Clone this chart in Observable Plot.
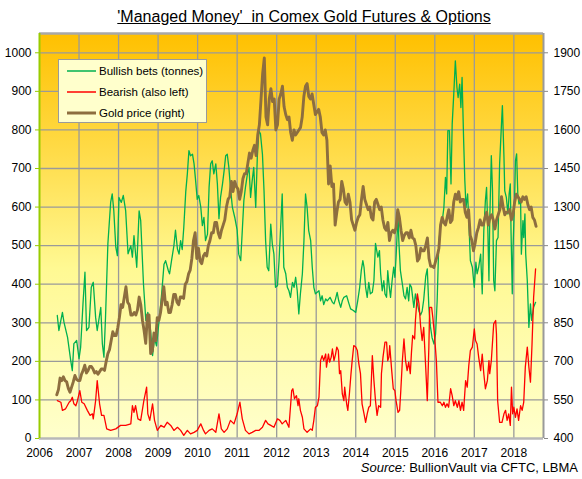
<!DOCTYPE html>
<html>
<head>
<meta charset="utf-8">
<script src="https://cdn.jsdelivr.net/npm/d3@7"></script>
<script src="https://cdn.jsdelivr.net/npm/@observablehq/plot@0.6"></script>
<style>
  body { margin: 0; background: #fff; font-family: Arial, "Liberation Sans", sans-serif; }
  #wrap { position: relative; width: 582px; height: 479px; overflow: hidden; }
  #title { height: 30px; width: 582px; padding-left: 26px; box-sizing: border-box; text-align: center; font-size: 16px; line-height: 34px; }
  #title span { text-decoration: underline; }
  #chart svg { display: block; }
  #legend { position: absolute; left: 58px; top: 59px; width: 149px; height: 64px; box-sizing: border-box; background: #FFFFCC; border: 1px solid #9a9a9a; font-size: 11.5px; }
  .row { position: absolute; left: 8px; height: 14px; display: flex; align-items: center; }
  .row svg { margin-right: 3px; }
  #source { position: absolute; right: 4px; top: 460px; font-size: 13px; }
</style>
</head>
<body>
<div id="wrap">
  <div id="title"><span>'Managed Money'&nbsp; in Comex Gold Futures &amp; Options</span></div>
  <div id="chart"></div>
  <div id="legend"></div>
  <div id="source"><i>Source:</i> BullionVault via CFTC, LBMA</div>
</div>
<script>
// ---- DATA ----
const yearTicks = [2006,2007,2008,2009,2010,2011,2012,2013,2014,2015,2016,2017,2018];
const leftTicks = [0,100,200,300,400,500,600,700,800,900,1000];
const rightTicks = [400,550,700,850,1000,1150,1300,1450,1600,1750,1900];

const seriesNames = ["Bullish bets (tonnes)", "Bearish (also left)", "Gold price (right)"];
const seriesColors = ["#00B050", "#FF0000", "#8D6E3F"];

// Gold price, US$/oz, two readings per month from June 2006 to July 2018
const goldStartYear = 2006, goldStartMonth = 6;
const goldPrice = [
  570,590, 635,625, 640,625, 620,595, 580,600, 620,645, 630,625,
  625,650, 665,685, 655,665, 680,680, 670,655, 660,650, 660,670, 670,665, 700,730, 745,780, 815,800, 800,830,
  870,920, 910,950, 990,930, 920,880, 880,890, 880,900, 950,920, 860,820, 770,880, 880,730, 740,810, 780,870,
  860,890, 940,990, 920,930, 890,890, 920,960, 960,930, 920,950, 950,945, 1000,1010, 1040,1055, 1100,1170, 1200,1100,
  1140,1090, 1080,1110, 1120,1110, 1150,1170, 1200,1200, 1240,1240, 1200,1180, 1210,1230, 1250,1300, 1330,1340, 1400,1360, 1400,1380,
  1370,1330, 1360,1410, 1430,1430, 1470,1510, 1490,1520, 1540,1500, 1580,1620, 1720,1820, 1880,1650, 1620,1720, 1760,1710, 1720,1600,
  1620,1720, 1740,1770, 1690,1660, 1640,1650, 1590,1560, 1600,1580, 1590,1600, 1610,1650, 1730,1770, 1780,1730, 1720,1740, 1700,1660,
  1670,1680, 1650,1590, 1580,1600, 1560,1390, 1460,1380, 1390,1230, 1280,1320, 1330,1400, 1370,1320, 1310,1350, 1320,1250, 1230,1210,
  1240,1260, 1270,1330, 1380,1330, 1310,1290, 1300,1260, 1250,1320, 1330,1310, 1290,1300, 1250,1220, 1210,1240, 1170,1200, 1210,1200,
  1220,1290, 1260,1210, 1170,1190, 1200,1200, 1180,1210, 1180,1175, 1150,1090, 1100,1140, 1130,1130, 1150,1180, 1100,1070, 1070,1065,
  1090,1110, 1140,1230, 1260,1240, 1230,1260, 1290,1240, 1250,1320, 1350,1330, 1360,1320, 1330,1330, 1280,1260, 1290,1190, 1170,1130,
  1160,1200, 1220,1250, 1230,1230, 1260,1280, 1230,1260, 1270,1250, 1215,1250, 1270,1290, 1340,1300, 1270,1280, 1280,1290, 1250,1270,
  1320,1350, 1340,1330, 1320,1340, 1330,1340, 1310,1290, 1300,1260, 1250,1225
];

// [years after 1 Jan 2006, tonnes]
const bullishBets = [
[0.45,319],[0.49,280],[0.58,327],[0.62,301],[0.71,262],[0.79,202],[0.83,176],[0.87,246],[0.94,254],[1.00,207],[1.04,236],[1.10,349],[1.15,431],[1.19,280],[1.25,288],[1.31,392],[1.36,405],[1.42,314],[1.46,280],[1.55,340],[1.59,246],[1.63,211],[1.67,314],[1.73,505],[1.80,612],[1.84,634],[1.88,590],[1.93,496],[1.97,474],[2.01,625],[2.07,612],[2.12,630],[2.18,590],[2.24,479],[2.31,500],[2.35,470],[2.39,526],[2.46,444],[2.52,590],[2.56,565],[2.63,401],[2.69,306],[2.74,327],[2.81,280],[2.86,215],[2.91,260],[2.96,240],
[3.04,320],[3.09,375],[3.15,452],[3.19,461],[3.26,435],[3.29,427],[3.34,461],[3.40,500],[3.44,540],[3.49,491],[3.53,478],[3.57,513],[3.61,490],[3.65,547],[3.70,640],[3.74,686],[3.78,746],[3.82,733],[3.87,737],[3.91,712],[3.95,668],[3.99,620],
[4.03,630],[4.08,600],[4.12,552],[4.16,573],[4.20,513],[4.25,530],[4.29,651],[4.33,712],[4.37,720],[4.41,686],[4.46,712],[4.50,660],[4.54,570],[4.58,625],[4.63,660],[4.67,694],[4.71,733],[4.75,737],[4.79,703],[4.83,651],[4.88,599],[4.94,573],
[5.00,540],[5.04,478],[5.09,461],[5.13,539],[5.17,617],[5.21,651],[5.26,686],[5.30,703],[5.34,625],[5.38,668],[5.42,703],[5.47,599],[5.51,729],[5.55,798],[5.59,790],[5.64,737],[5.68,642],[5.72,513],[5.76,444],[5.80,435],[5.85,556],[5.89,504],[5.93,478],[5.97,392],
[6.02,396],[6.06,461],[6.10,547],[6.14,634],[6.18,444],[6.23,427],[6.27,392],[6.31,383],[6.35,366],[6.40,405],[6.44,392],[6.48,418],[6.52,383],[6.56,323],[6.60,375],[6.65,427],[6.69,513],[6.73,634],[6.77,599],[6.81,539],[6.86,513],[6.90,444],[6.94,392],[6.98,375],
[7.07,383],[7.11,357],[7.15,370],[7.19,347],[7.24,362],[7.28,357],[7.35,366],[7.41,353],[7.45,349],[7.49,362],[7.53,379],[7.57,357],[7.62,340],[7.66,357],[7.70,366],[7.77,370],[7.83,349],[7.87,336],[7.94,332],
[8.00,327],[8.05,357],[8.10,392],[8.14,435],[8.18,461],[8.21,444],[8.25,392],[8.29,366],[8.33,405],[8.37,375],[8.42,379],[8.46,409],[8.50,506],[8.56,470],[8.60,487],[8.63,427],[8.67,383],[8.71,409],[8.74,375],[8.78,366],[8.81,435],[8.84,401],[8.88,366],[8.92,409],[8.96,444],[8.99,418],
[9.02,470],[9.07,580],[9.09,513],[9.13,435],[9.18,400],[9.22,370],[9.26,362],[9.30,392],[9.34,357],[9.37,400],[9.41,392],[9.47,340],[9.51,375],[9.56,349],[9.60,330],[9.64,320],[9.68,330],[9.72,360],[9.77,420],[9.81,440],[9.85,340],[9.89,290],[9.93,262],[9.98,245],
[10.02,271],[10.06,357],[10.10,504],[10.14,547],[10.19,565],[10.23,599],[10.27,677],[10.30,634],[10.33,798],[10.37,798],[10.41,660],[10.44,815],[10.48,893],[10.52,979],[10.56,910],[10.59,884],[10.63,919],[10.66,858],[10.69,936],[10.73,772],[10.76,668],[10.79,599],[10.83,634],[10.86,565],[10.90,461],[10.95,444],[10.99,401],
[11.00,392],[11.04,457],[11.07,427],[11.11,444],[11.16,478],[11.20,375],[11.24,539],[11.28,617],[11.31,651],[11.34,547],[11.37,409],[11.39,565],[11.43,733],[11.46,642],[11.49,409],[11.52,383],[11.56,513],[11.60,521],[11.64,712],[11.69,822],[11.71,863],[11.75,729],[11.77,642],[11.81,625],[11.85,582],[11.88,634],[11.91,660],[11.93,530],[11.96,375],[11.98,496],
[12.02,625],[12.04,720],[12.07,738],[12.10,634],[12.13,608],[12.17,617],[12.19,478],[12.23,565],[12.25,521],[12.28,582],[12.30,478],[12.34,409],[12.38,288],[12.42,349],[12.45,306],[12.50,340],[12.55,353]
];

const bearishBets = [
[0.45,98],[0.54,94],[0.58,73],[0.66,77],[0.75,94],[0.79,98],[0.83,107],[0.87,90],[0.92,85],[0.96,98],[1.02,124],[1.07,94],[1.13,90],[1.21,73],[1.28,60],[1.34,64],[1.36,51],[1.42,98],[1.46,150],[1.52,90],[1.57,60],[1.63,60],[1.70,25],[1.80,21],[1.93,25],
[2.05,34],[2.18,34],[2.31,38],[2.35,85],[2.39,68],[2.43,85],[2.49,51],[2.56,47],[2.64,98],[2.71,133],[2.74,64],[2.79,47],[2.86,90],[2.91,47],[2.98,21],
[3.07,34],[3.15,29],[3.23,42],[3.32,34],[3.40,21],[3.49,29],[3.57,21],[3.65,8],[3.74,21],[3.82,12],[3.91,16],[3.99,21],
[4.08,38],[4.15,21],[4.20,12],[4.29,21],[4.37,25],[4.46,16],[4.54,64],[4.60,25],[4.67,16],[4.75,25],[4.83,47],[4.92,38],
[5.00,64],[5.07,94],[5.13,51],[5.21,21],[5.30,12],[5.38,16],[5.47,21],[5.55,21],[5.64,29],[5.72,47],[5.78,38],[5.85,34],[5.93,29],
[6.02,51],[6.08,47],[6.14,38],[6.23,47],[6.31,29],[6.38,124],[6.41,129],[6.45,103],[6.50,111],[6.54,85],[6.56,103],[6.60,73],[6.65,55],[6.69,25],[6.77,16],[6.86,25],[6.90,21],[6.94,47],[6.98,81],
[7.03,85],[7.07,107],[7.11,202],[7.15,215],[7.19,202],[7.24,219],[7.26,185],[7.31,219],[7.34,198],[7.38,211],[7.41,232],[7.45,202],[7.49,219],[7.52,237],[7.56,228],[7.59,168],[7.62,176],[7.66,116],[7.70,98],[7.72,133],[7.77,90],[7.80,73],[7.84,116],[7.88,168],[7.91,202],[7.95,241],
[8.00,237],[8.04,228],[8.08,193],[8.12,168],[8.16,90],[8.21,64],[8.25,42],[8.29,64],[8.33,81],[8.37,85],[8.42,215],[8.46,150],[8.50,98],[8.54,60],[8.58,85],[8.63,81],[8.65,168],[8.69,211],[8.74,250],[8.78,250],[8.81,202],[8.84,211],[8.86,241],[8.91,176],[8.95,129],[8.99,124],
[9.02,98],[9.07,68],[9.11,73],[9.14,124],[9.18,202],[9.22,258],[9.26,202],[9.30,176],[9.34,198],[9.38,168],[9.41,224],[9.44,267],[9.49,258],[9.51,306],[9.56,375],[9.60,349],[9.64,293],[9.68,254],[9.72,288],[9.77,185],[9.81,98],[9.85,237],[9.87,340],[9.92,340],[9.95,314],[9.99,271],
[10.04,202],[10.08,94],[10.14,94],[10.19,85],[10.23,94],[10.27,81],[10.31,90],[10.35,81],[10.40,129],[10.44,111],[10.48,85],[10.52,98],[10.57,81],[10.61,98],[10.65,73],[10.69,94],[10.73,73],[10.78,150],[10.82,133],[10.86,189],[10.90,228],[10.95,237],
[11.00,284],[11.03,254],[11.07,245],[11.11,211],[11.16,176],[11.20,219],[11.24,168],[11.28,129],[11.33,150],[11.37,202],[11.39,168],[11.43,202],[11.49,297],[11.54,306],[11.56,271],[11.59,98],[11.64,42],[11.70,42],[11.75,64],[11.79,73],[11.83,47],[11.87,64],[11.91,34],[11.94,133],[11.97,64],
[12.00,81],[12.04,55],[12.08,77],[12.12,47],[12.17,85],[12.21,73],[12.25,94],[12.29,185],[12.34,237],[12.38,185],[12.42,146],[12.46,245],[12.50,366],[12.55,440]
];

// ---- SCALES (right axis mapped onto left axis) ----
const leftMax = 1050;
const rightMin = rightTicks[0], rightPerLeft = (rightTicks[rightTicks.length-1] - rightTicks[0]) / leftTicks[leftTicks.length-1];
const toLeft = g => (g - rightMin) / rightPerLeft;

const goldData = goldPrice.map((v, i) => ({
  t: goldStartYear + (goldStartMonth - 1 + 0.25 + 0.5 * i) / 12,
  v: toLeft(v)
}));
const bullData = bullishBets.map(([t, v]) => ({t: 2006 + t, v}));
const bearData = bearishBets.map(([t, v]) => ({t: 2006 + t, v}));

const xMax = 2018.75;

const chart = Plot.plot({
  width: 582,
  height: 432,
  marginLeft: 39,
  marginRight: 39,
  marginTop: 3,
  marginBottom: 24,
  style: {fontFamily: 'Arial, "Liberation Sans", sans-serif', fontSize: "12px", color: "#000", background: "transparent", overflow: "visible"},
  x: {type: "linear", domain: [2006, xMax]},
  y: {domain: [0, leftMax]},
  marks: [
    Plot.frame({fill: "url(#bgGrad)", stroke: "none"}),
    Plot.gridX(yearTicks.slice(1), {stroke: "#9a9a9a", strokeOpacity: 1, strokeWidth: 1.3}),
    Plot.gridY(leftTicks.slice(1), {stroke: "#9a9a9a", strokeOpacity: 1, strokeWidth: 1.3}),
    Plot.line(bullData, {x: "t", y: "v", stroke: seriesColors[0], strokeWidth: 1.3}),
    Plot.line(bearData, {x: "t", y: "v", stroke: seriesColors[1], strokeWidth: 1.3}),
    Plot.line(goldData, {x: "t", y: "v", stroke: seriesColors[2], strokeWidth: 2.9}),
    Plot.ruleY([leftMax], {stroke: "#a8a8a8", strokeWidth: 2.5}),
    Plot.ruleY([0], {stroke: "#b8b8b8", strokeWidth: 2.5}),
    Plot.ruleX([xMax], {stroke: "#9a9a9a", strokeWidth: 2}),
    Plot.ruleX([2006], {stroke: "#99CC00", strokeWidth: 2}),
    Plot.axisY(leftTicks, {anchor: "left", tickSize: 4, tickPadding: 4, stroke: "#99CC00", label: null, tickFormat: d => String(d)}),
    Plot.axisY(leftTicks, {anchor: "right", tickSize: 4, tickPadding: 6, stroke: "#888", label: null, tickFormat: (d, i) => String(rightTicks[i])}),
    Plot.axisX(yearTicks, {anchor: "bottom", tickSize: 0, tickPadding: 10, label: null, tickFormat: d => String(d)})
  ]
});

// background gradient of the plotting area
const defs = d3.select(chart).insert("defs", ":first-child");
const grad = defs.append("linearGradient").attr("id", "bgGrad").attr("x1", 0).attr("y1", 0).attr("x2", 0).attr("y2", 1);
[["0%", "#FFC000"], ["30%", "#FFDC4A"], ["58%", "#FFF993"], ["100%", "#FFFFCC"]].forEach(([o, c]) =>
  grad.append("stop").attr("offset", o).attr("stop-color", c));

document.getElementById("chart").appendChild(chart);

// legend
const legend = document.getElementById("legend");
const rowTops = [4, 25, 46];
const widths = [1.5, 1.5, 3];
seriesNames.forEach((name, i) => {
  const row = document.createElement("div");
  row.className = "row";
  row.style.top = rowTops[i] + "px";
  row.innerHTML = `<svg width="29" height="14"><line x1="0" x2="29" y1="7" y2="7" stroke="${seriesColors[i]}" stroke-width="${widths[i]}"/></svg><span>${name}</span>`;
  legend.appendChild(row);
});
</script>
</body>
</html>
